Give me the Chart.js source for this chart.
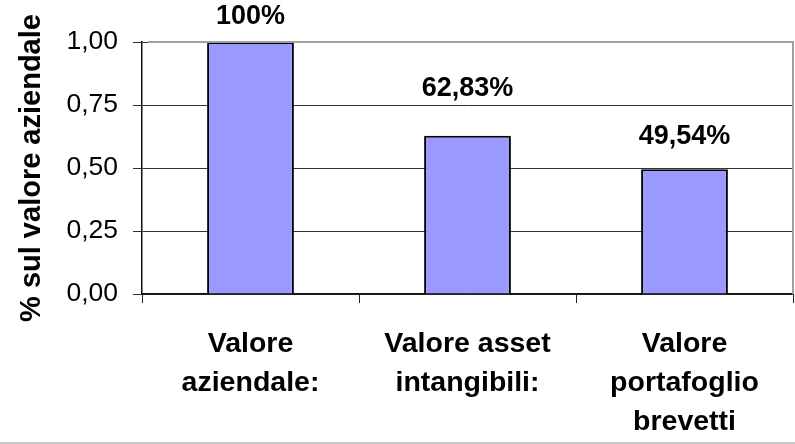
<!DOCTYPE html>
<html>
<head>
<meta charset="utf-8">
<script src="https://cdn.jsdelivr.net/npm/chart.js@4/dist/chart.umd.min.js"></script>
<style>
html,body{margin:0;padding:0;background:#fff;}
#wrap{width:795px;height:444px;position:relative;}
</style>
</head>
<body>
<div id="wrap"><canvas id="c" width="795" height="444"></canvas></div>
<script>
const categories = [["Valore","aziendale:"],["Valore asset","intangibili:"],["Valore","portafoglio","brevetti"]];
const values = [1.0, 0.6283, 0.4954];
const valueLabels = ["100%","62,83%","49,54%"];
const yTicks = [0, 0.25, 0.5, 0.75, 1.0];
const yTitle = "% sul valore aziendale";

const FONT = "'Liberation Sans', Arial, sans-serif";

const decor = {
  id: 'decor',
  beforeDraw(chart) {
    const ctx = chart.ctx;
    ctx.save();
    ctx.fillStyle = '#fff';
    ctx.fillRect(0, 0, chart.width, chart.height);
    ctx.restore();
  },
  afterDraw(chart, args, opts) {
    const ctx = chart.ctx;
    const a = chart.chartArea;
    ctx.save();
    ctx.strokeStyle = '#a0a0a0';
    ctx.lineWidth = 2;
    ctx.beginPath();
    ctx.moveTo(a.left + 6, a.top);
    ctx.lineTo(a.right, a.top);
    ctx.lineTo(a.right, a.bottom);
    ctx.stroke();
    ctx.strokeStyle = '#c8c8c8';
    ctx.lineWidth = 2;
    ctx.beginPath();
    ctx.moveTo(0, chart.height - 1);
    ctx.lineTo(chart.width, chart.height - 1);
    ctx.stroke();
    // value labels
    const meta = chart.getDatasetMeta(0);
    ctx.font = 'bold 27px ' + FONT;
    ctx.fillStyle = '#000';
    ctx.textAlign = 'center';
    ctx.textBaseline = 'middle';
    meta.data.forEach((bar, i) => {
      ctx.fillText(valueLabels[i], bar.x, bar.y - opts.offsets[i]);
    });
    ctx.restore();
  }
};

new Chart(document.getElementById('c'), {
  type: 'bar',
  data: {
    labels: categories,
    datasets: [{
      data: values,
      backgroundColor: '#9999ff',
      borderColor: '#000',
      borderWidth: 2,
      barPercentage: 0.4,
      categoryPercentage: 1.0
    }]
  },
  options: {
    responsive: false,
    animation: false,
    layout: { padding: { top: 42, right: 2, left: 0, bottom: 0 } },
    plugins: {
      legend: { display: false },
      tooltip: { enabled: false },
      decor: { offsets: [25, 47, 33] }
    },
    scales: {
      x: {
        grid: { offset: true, drawOnChartArea: false, tickLength: 9, color: '#222', lineWidth: 1 },
        border: { color: '#111', width: 1.5 },
        ticks: {
          color: '#000',
          font: { family: FONT, size: 28.5, weight: 'bold', lineHeight: 1.37 },
          padding: 22,
          maxRotation: 0,
          autoSkip: false
        },
        afterFit(s) { s.height = 150; }
      },
      y: {
        min: 0, max: 1,
        afterBuildTicks(s) { s.ticks = yTicks.map(v => ({ value: v })); },
        grid: { tickLength: 9, color: '#333', lineWidth: 1 },
        border: { color: '#111', width: 1.5 },
        ticks: {
          color: '#000',
          font: { family: FONT, size: 26.5 },
          padding: 15,
          callback: v => v.toFixed(2).replace('.', ',')
        },
        title: {
          display: true,
          text: yTitle,
          color: '#000',
          font: { family: FONT, size: 29, weight: 'bold', lineHeight: 1.2 },
          padding: { top: 15, bottom: 0 }
        },
        afterFit(s) { s.width = 142; }
      }
    }
  },
  plugins: [decor]
});
</script>
</body>
</html>
